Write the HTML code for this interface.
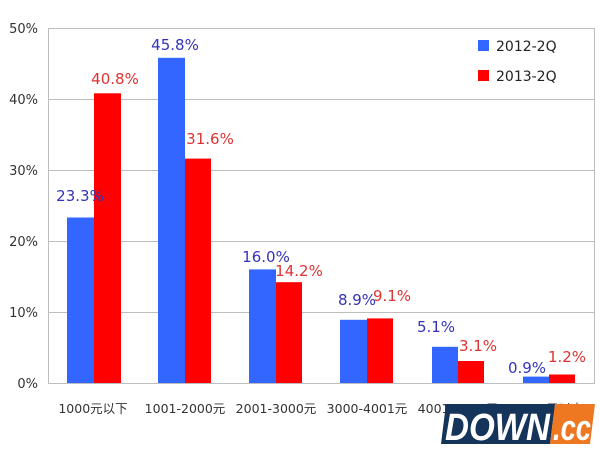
<!DOCTYPE html>
<html><head><meta charset="utf-8"><style>body{margin:0;background:#fff}svg{display:block}</style></head><body>
<svg width="600" height="450" xmlns="http://www.w3.org/2000/svg" font-family="DejaVu Sans, Noto Sans CJK SC, sans-serif">
<g stroke="#bdbdbd" stroke-width="1">
<line x1="48" y1="28.5" x2="595" y2="28.5"/><line x1="48" y1="99.5" x2="595" y2="99.5"/><line x1="48" y1="170.5" x2="595" y2="170.5"/><line x1="48" y1="241.5" x2="595" y2="241.5"/><line x1="48" y1="312.5" x2="595" y2="312.5"/>
<line x1="48.5" y1="28" x2="48.5" y2="383"/><line x1="594.5" y1="28" x2="594.5" y2="383"/><line x1="48" y1="383.5" x2="595" y2="383.5"/>
</g>
<g font-size="13" fill="#333" text-anchor="end">
<text x="38" y="33">50%</text><text x="38" y="104">40%</text><text x="38" y="175">30%</text><text x="38" y="246">20%</text><text x="38" y="317">10%</text><text x="38" y="388">0%</text>
</g>
<g fill="#3366ff">
<rect x="67" y="217.5" width="27" height="165.5"/><rect x="158" y="57.8" width="27" height="325.2"/><rect x="249" y="269.4" width="27" height="113.6"/><rect x="340" y="319.8" width="27" height="63.2"/><rect x="432" y="346.8" width="26" height="36.2"/><rect x="523" y="376.6" width="26" height="6.4"/>
</g>
<g fill="#ff0000">
<rect x="94" y="93.3" width="27" height="289.7"/><rect x="185" y="158.6" width="26" height="224.4"/><rect x="276" y="282.2" width="26" height="100.8"/><rect x="367" y="318.4" width="26" height="64.6"/><rect x="458" y="361" width="26" height="22"/><rect x="549" y="374.5" width="26" height="8.5"/>
</g>
<g font-size="15" text-anchor="middle">
<g fill="#3333bb"><text x="80" y="201">23.3%</text><text x="175" y="50">45.8%</text><text x="266" y="262">16.0%</text><text x="357" y="305">8.9%</text><text x="436" y="332">5.1%</text><text x="527" y="373">0.9%</text></g>
<g fill="#dd3333"><text x="115" y="84">40.8%</text><text x="210" y="144">31.6%</text><text x="299" y="276">14.2%</text><text x="392" y="301">9.1%</text><text x="478" y="351">3.1%</text><text x="567" y="362">1.2%</text></g>
</g>
<rect x="478" y="40" width="11" height="11" fill="#3366ff"/><text x="496" y="51" font-size="14" fill="#222">2012-2Q</text>
<rect x="478" y="70" width="11" height="11" fill="#ff0000"/><text x="496" y="81" font-size="14" fill="#222">2013-2Q</text>
<g font-size="12.5" fill="#333" text-anchor="middle">
<text x="93" y="413">1000元以下</text><text x="185" y="413">1001-2000元</text><text x="276" y="413">2001-3000元</text><text x="367" y="413">3000-4001元</text><text x="458" y="413">4001-5000元</text><text x="549" y="413">5001元以上</text>
</g>
<polygon points="446,404 555,404 550,444 441,444" fill="#14345a"/>
<polygon points="555,404 595,404 590,444 550,444" fill="#ee7722"/>
<text x="445" y="440" font-family="Liberation Sans, sans-serif" font-size="38" font-weight="bold" font-style="italic" fill="#fff" textLength="105" lengthAdjust="spacingAndGlyphs">DOWN</text>
<text x="553" y="440" font-family="Liberation Sans, sans-serif" font-size="36" font-weight="bold" font-style="italic" fill="#fff" textLength="38" lengthAdjust="spacingAndGlyphs">.cc</text>
</svg>
</body></html>
